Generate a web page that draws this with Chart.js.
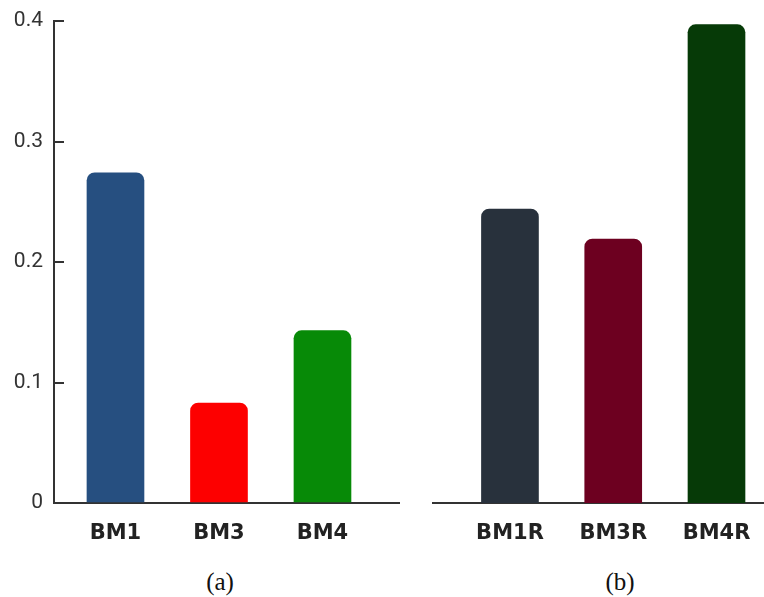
<!DOCTYPE html>
<html>
<head>
<meta charset="utf-8">
<script src="https://cdn.jsdelivr.net/npm/chart.js@4.4.1/dist/chart.umd.min.js"></script>
<style>
    body { margin: 0; background: #ffffff; }
    #wrap { position: relative; width: 764px; height: 597px; overflow: hidden; }
    .panel { position: absolute; top: 0; height: 560px; }
    #panelA { left: 0; width: 400px; }
    #panelB { left: 432px; width: 332px; }
    .caption {
        position: absolute; top: 568px; width: 60px; text-align: center;
        font-family: "Liberation Serif", "Times New Roman", serif; font-size: 25px; color: #111;
    }
</style>
</head>
<body>
<div id="wrap">
    <div class="panel" id="panelA"><canvas id="chartA"></canvas></div>
    <div class="panel" id="panelB"><canvas id="chartB"></canvas></div>
    <div class="caption" style="left: 190px;">(a)</div>
    <div class="caption" style="left: 590px;">(b)</div>
</div>
<script>
// chart data
const labelsA = ['BM1', 'BM3', 'BM4'];
const valuesA = [0.274, 0.083, 0.143];
const colorsA = ['#264f80', '#fd0000', '#078a07'];

const labelsB = ['BM1R', 'BM3R', 'BM4R'];
const valuesB = [0.244, 0.219, 0.397];
const colorsB = ['#28313c', '#6d0020', '#063a07'];

const yTicks = [0, 0.1, 0.2, 0.3, 0.4];

const axisColor = '#333333';

// bars sit at x = 1, 2, 3 on a linear axis so the axis line can run past them
function toPoints(values) {
    return values.map((v, i) => ({ x: i + 1, y: v }));
}

function makeChart(id, labels, values, colors, xMin, xMax, showY) {
    const ctx = document.getElementById(id).getContext('2d');
    return new Chart(ctx, {
        type: 'bar',
        data: {
            datasets: [{
                data: toPoints(values),
                backgroundColor: colors,
                borderRadius: { topLeft: 8, topRight: 8 },
                borderSkipped: 'start',
                barThickness: 57
            }]
        },
        options: {
            responsive: true,
            maintainAspectRatio: false,
            animation: false,
            layout: { padding: { top: 21, left: 0, right: 0, bottom: 0 } },
            plugins: { legend: { display: false }, tooltip: { enabled: false } },
            scales: {
                x: {
                    type: 'linear',
                    offset: false,
                    min: xMin,
                    max: xMax,
                    grid: { display: false, drawTicks: false, offset: false },
                    border: { display: true, color: axisColor, width: 2 },
                    afterBuildTicks: (scale) => {
                        scale.ticks = labels.map((l, i) => ({ value: i + 1 }));
                    },
                    afterFit: (scale) => {
                        scale.height = 57;
                        scale.paddingLeft = 0;
                        scale.paddingRight = 0;
                    },
                    ticks: {
                        autoSkip: false,
                        maxRotation: 0,
                        padding: 18,
                        color: '#222222',
                        font: { family: 'DejaVu Sans', size: 21, weight: 'bold' },
                        callback: (value) => labels[value - 1]
                    }
                },
                y: {
                    display: showY,
                    min: 0,
                    max: 0.4,
                    afterBuildTicks: (scale) => {
                        scale.ticks = yTicks.map(v => ({ value: v }));
                    },
                    afterFit: (scale) => {
                        scale.width = showY ? 54 : 0;
                        // keep the top of the plot fixed by the layout padding only
                        scale.paddingTop = 0;
                        scale.paddingBottom = 0;
                    },
                    grid: {
                        drawOnChartArea: false,
                        drawTicks: true,
                        tickLength: -10,
                        color: axisColor,
                        lineWidth: 2
                    },
                    border: { display: true, color: axisColor, width: 2 },
                    ticks: {
                        padding: 21,
                        color: '#333333',
                        font: { family: 'Roboto', size: 21 },
                        callback: (value) => String(value)
                    }
                }
            }
        }
    });
}

makeChart('chartA', labelsA, valuesA, colorsA, 0.406, 3.749, true);
makeChart('chartB', labelsB, valuesB, colorsB, 0.245, 3.46, false);
</script>
</body>
</html>
